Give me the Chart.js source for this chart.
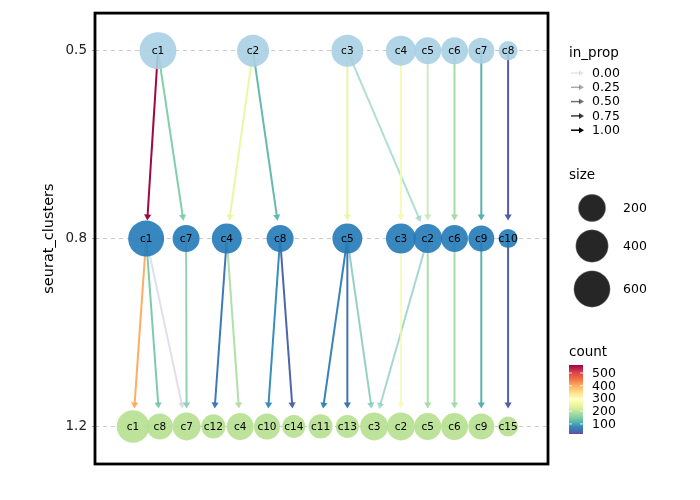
<!DOCTYPE html>
<html><head><meta charset="utf-8">
<script src="https://cdn.jsdelivr.net/npm/chart.js@4.4.1/dist/chart.umd.min.js"></script>
<style>html,body{margin:0;padding:0;background:#fff}#wrap{width:700px;height:500px}</style>
</head><body><div id="wrap"><canvas id="c" width="700" height="500"></canvas></div>
<script>
// ---------------- data ----------------
const resolutions = ['0.5', '0.8', '1.2'];

const clusters05 = ['c1','c2','c3','c4','c5','c6','c7','c8'];
const size05     = [640, 375, 375, 290, 190, 190, 165, 62];

const clusters08 = ['c1','c7','c4','c8','c5','c3','c2','c6','c9','c10'];
const size08     = [580, 190, 290, 190, 290, 290, 255, 190, 165, 62];

const clusters12 = ['c1','c8','c7','c12','c4','c10','c14','c11','c13','c3','c2','c5','c6','c9','c15'];
const size12     = [400, 165, 220, 120, 190, 165, 100, 120, 100, 220, 220, 190, 190, 165, 66];

// edges: from resolution index, from cluster, to cluster (next resolution), count, in_prop
const edgeLevel  = [0,0,0,0,0,0,0,0,0,0,0, 1,1,1,1,1,1,1,1,1,1,1,1,1,1,1,1,1];
const edgeFrom   = ['c1','c1','c2','c2','c3','c3','c4','c5','c6','c7','c8',
                    'c1','c1','c1','c7','c4','c4','c8','c8','c5','c5','c5','c2','c3','c2','c6','c9','c10'];
const edgeTo     = ['c1','c7','c4','c8','c5','c2','c3','c2','c6','c9','c10',
                    'c1','c8','c7','c7','c12','c4','c10','c14','c11','c13','c3','c3','c2','c5','c6','c9','c15'];
const edgeCount  = [563,145,245,120,245,125,270,190,175,110,35,
                    400,140,21,150,62,185,80,42,70,55,125,120,265,180,175,110,38];
const edgeInProp = [0.97,0.92,0.9,0.95,0.95,0.45,0.95,0.62,0.95,0.95,1.0,
                    1.0,0.92,0.1,0.85,1.0,0.95,1.0,1.0,1.0,1.0,0.65,0.5,0.75,0.95,0.95,0.95,1.0];

// legend values
const propLegend  = [0.00, 0.25, 0.50, 0.75, 1.00];
const sizeLegend  = [200, 400, 600];
const countLegend = [100, 200, 300, 400, 500];

// ---------------- layout / styles ----------------
const layoutX = [
  [0.93, 4.48, 8, 10, 11, 12, 13, 14],
  [0.49, 1.98, 3.5, 5.49, 8, 10, 11, 12, 13, 14],
  [0,1,2,3,4,5,6,7,8,9,10,11,12,13,14]
];
const levelClusters = [clusters05, clusters08, clusters12];
const levelSizes = [size05, size08, size12];
const levelColors = ['rgba(169,207,227,0.9)', 'rgba(36,122,184,0.9)', 'rgba(182,224,144,0.9)'];
const FONT = "'DejaVu Sans', 'Liberation Sans', sans-serif";
const SPECTRAL = ['#5E4FA2','#3288BD','#66C2A5','#ABDDA4','#E6F598','#FFFFBF','#FEE08B','#FDAE61','#F46D43','#D53E4F','#9E0142'];
const cMin = Math.min(...edgeCount), cMax = Math.max(...edgeCount);
const SMIN = 60, SMAX = 640;

function nodeRadius(v) {
  const t = Math.max(0, (v - SMIN) / (SMAX - SMIN));
  return (18 + 19 * Math.sqrt(t)) / 2;
}
function hexRgb(h) { return [parseInt(h.slice(1,3),16), parseInt(h.slice(3,5),16), parseInt(h.slice(5,7),16)]; }
function countRgb(v) {
  let t = (v - cMin) / (cMax - cMin); t = Math.min(1, Math.max(0, t));
  const p = t * (SPECTRAL.length - 1);
  const i = Math.min(SPECTRAL.length - 2, Math.floor(p));
  const f = p - i;
  const a = hexRgb(SPECTRAL[i]), b = hexRgb(SPECTRAL[i+1]);
  return a.map((c, k) => Math.round(c + (b[k] - c) * f));
}
function propAlpha(p) { return 0.1 + 0.9 * p; }

const datasets = levelClusters.map((cl, li) => ({
  label: resolutions[li],
  data: cl.map((c, i) => ({ x: layoutX[li][i], y: li, count: levelSizes[li][i], name: c })),
  pointRadius: ctx => nodeRadius(ctx.raw.count),
  pointBackgroundColor: levelColors[li],
  pointBorderWidth: 0,
  showLine: false
}));

function arrowHead(ctx, x, y, ux, uy, len, hw) {
  ctx.beginPath();
  ctx.moveTo(x, y);
  ctx.lineTo(x - ux * len - uy * hw, y - uy * len + ux * hw);
  ctx.lineTo(x - ux * len + uy * hw, y - uy * len - ux * hw);
  ctx.closePath();
  ctx.fill();
}

const edgePlugin = {
  id: 'edges',
  beforeDatasetsDraw(chart) {
    const ctx = chart.ctx, xs = chart.scales.x, ys = chart.scales.y;
    ctx.save();
    for (let e = 0; e < edgeCount.length; e++) {
      const l = edgeLevel[e];
      const fi = levelClusters[l].indexOf(edgeFrom[e]);
      const ti = levelClusters[l+1].indexOf(edgeTo[e]);
      const x1 = xs.getPixelForValue(layoutX[l][fi]), y1 = ys.getPixelForValue(l);
      const x2 = xs.getPixelForValue(layoutX[l+1][ti]), y2 = ys.getPixelForValue(l+1);
      const dx = x2 - x1, dy = y2 - y1, d = Math.hypot(dx, dy);
      const ux = dx / d, uy = dy / d;
      const tipX = x2 - ux * 18, tipY = y2 - uy * 18;
      const [r, g, b] = countRgb(edgeCount[e]);
      const col = `rgba(${r},${g},${b},${propAlpha(edgeInProp[e])})`;
      ctx.strokeStyle = col; ctx.fillStyle = col;
      ctx.lineWidth = 2; ctx.lineCap = 'butt';
      ctx.beginPath();
      ctx.moveTo(x1, y1);
      ctx.lineTo(tipX - ux * 5, tipY - uy * 5);
      ctx.stroke();
      arrowHead(ctx, tipX, tipY, ux, uy, 6, 3.6);
    }
    ctx.restore();
  },
  afterDatasetsDraw(chart) {
    const ctx = chart.ctx;
    ctx.save();
    ctx.font = `10.5px ${FONT}`;
    ctx.fillStyle = '#000';
    ctx.textAlign = 'center'; ctx.textBaseline = 'middle';
    chart.data.datasets.forEach((ds, di) => {
      const meta = chart.getDatasetMeta(di);
      meta.data.forEach((pt, i) => ctx.fillText(ds.data[i].name, pt.x, pt.y + 0.5));
    });
    ctx.restore();
  },
  afterDraw(chart) {
    const ctx = chart.ctx, a = chart.chartArea;
    ctx.save();
    // panel border
    ctx.strokeStyle = '#000'; ctx.lineWidth = 2.8;
    ctx.strokeRect(a.left, a.top, a.right - a.left, a.bottom - a.top);

    const LX = 569;
    ctx.fillStyle = '#000';
    ctx.textBaseline = 'middle'; ctx.textAlign = 'left';
    // in_prop legend
    ctx.font = `13.5px ${FONT}`;
    ctx.fillText('in_prop', LX, 53);
    ctx.font = `12.5px ${FONT}`;
    propLegend.forEach((p, i) => {
      const y = 73 + i * 14.3;
      const col = `rgba(0,0,0,${propAlpha(p)})`;
      ctx.strokeStyle = col; ctx.fillStyle = col; ctx.lineWidth = 1.5;
      ctx.beginPath(); ctx.moveTo(571, y); ctx.lineTo(580, y); ctx.stroke();
      arrowHead(ctx, 584, y, 1, 0, 5, 3);
      ctx.fillStyle = '#000';
      ctx.fillText(p.toFixed(2), 592, y + 0.5);
    });
    // size legend
    ctx.font = `13.5px ${FONT}`;
    ctx.fillText('size', LX, 175);
    ctx.font = `12.5px ${FONT}`;
    const sizeY = [208, 246, 289];
    sizeLegend.forEach((s, i) => {
      ctx.beginPath();
      ctx.arc(592, sizeY[i], nodeRadius(s), 0, Math.PI * 2);
      ctx.fillStyle = '#262626'; ctx.fill();
      ctx.strokeStyle = 'rgba(160,160,160,0.6)'; ctx.lineWidth = 0.6; ctx.stroke();
      ctx.fillStyle = '#000';
      ctx.fillText(String(s), 623, sizeY[i] + 0.5);
    });
    // count legend
    ctx.font = `13.5px ${FONT}`;
    ctx.fillText('count', LX, 352);
    const barTop = 365, barBot = 434, bx = 569, bw = 14;
    const grad = ctx.createLinearGradient(0, barBot, 0, barTop);
    SPECTRAL.forEach((c, i) => grad.addColorStop(i / (SPECTRAL.length - 1), c));
    ctx.fillStyle = grad;
    ctx.fillRect(bx, barTop, bw, barBot - barTop);
    ctx.font = `12.5px ${FONT}`;
    countLegend.forEach(v => {
      const y = barBot - (v - cMin) / (cMax - cMin) * (barBot - barTop);
      ctx.strokeStyle = 'rgba(255,255,255,0.8)'; ctx.lineWidth = 1;
      ctx.beginPath(); ctx.moveTo(bx, y); ctx.lineTo(bx + 3, y);
      ctx.moveTo(bx + bw - 3, y); ctx.lineTo(bx + bw, y); ctx.stroke();
      ctx.fillStyle = '#000';
      ctx.fillText(String(v), 592, y + 0.5);
    });
    ctx.restore();
  }
};

new Chart(document.getElementById('c'), {
  type: 'scatter',
  data: { datasets },
  options: {
    responsive: false, animation: false, events: [],
    layout: { autoPadding: false, padding: { top: 13, right: 152, bottom: 36, left: 0 } },
    plugins: { legend: { display: false }, tooltip: { enabled: false } },
    scales: {
      x: { type: 'linear', min: -1.42, max: 15.49, display: false },
      y: {
        type: 'linear', reverse: true, min: -0.2, max: 2.2,
        afterBuildTicks: s => { s.ticks = resolutions.map((_, i) => ({ value: i })); },
        afterFit: s => { s.width = 95; },
        ticks: { callback: v => resolutions[v], font: { family: FONT, size: 13.5 }, color: '#222', padding: 5 },
        grid: { color: '#cccccc', lineWidth: 1, tickLength: 3, tickColor: '#aaaaaa', drawTicks: true },
        border: { display: false, dash: [4, 4] },
        title: { display: true, text: 'seurat_clusters', color: '#000', font: { family: FONT, size: 14.5 }, padding: { top: 41 } }
      }
    }
  },
  plugins: [edgePlugin]
});
</script>
</body></html>
